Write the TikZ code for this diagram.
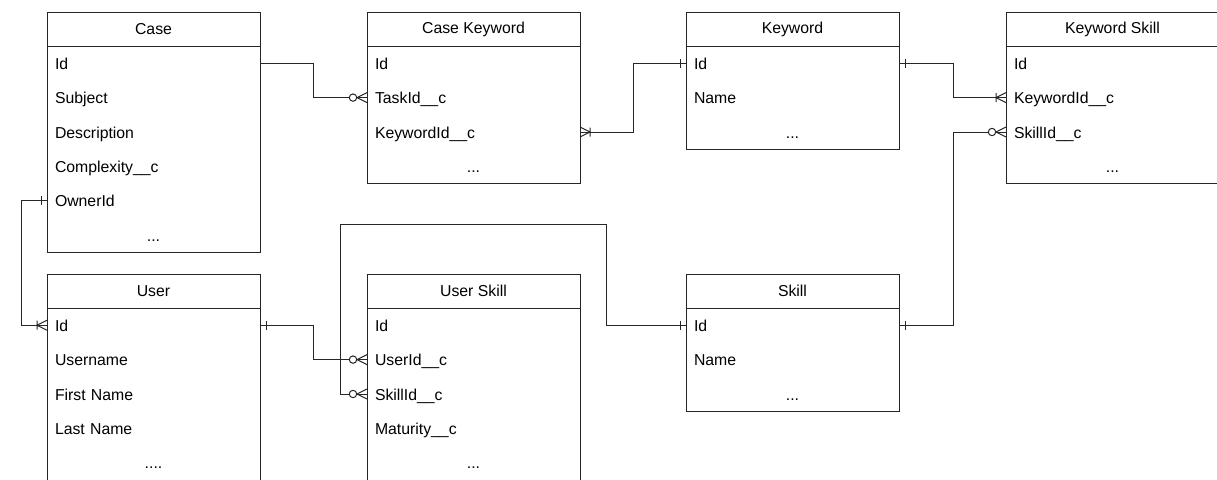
\documentclass[tikz,border=0pt]{standalone}
\usepackage{fontspec}
\setmainfont{Liberation Sans}
\usetikzlibrary{positioning, decorations.markings}

% one table: name, top left corner, title, fields
\newcommand{\erTable}[4]{%
  \node[tblhead] (#1) at (#2) {#3};
  \coordinate (#1-0) at (#1.south);
  \foreach \fld [count=\i, remember=\i as \prev (initially 0)] in {#4} {
    \node[tblrow, below=0pt of #1-\prev] (#1-\i) {\rowstrut\fld};
    \xdef\lastrow{\i}
  }
  \draw (#1.north west) rectangle (#1-\lastrow.south east);
}
\newcommand{\rowstrut}{\rule[-4pt]{0pt}{20pt}}
% the last, centred row of a table
\newcommand{\etcrow}{\makebox[197pt]{...}}
\newcommand{\etcrowlong}{\makebox[197pt]{....}}

\begin{document}
\begin{tikzpicture}[
    x=1pt, y=-1pt,
    font=\fontsize{15.8}{18}\selectfont,
    color=black!85, text=black, line width=1pt,
    tblhead/.style={draw, anchor=north west, minimum width=213pt,
        minimum height=34pt, inner sep=0pt, outer sep=0pt},
    tblrow/.style={minimum width=213pt, minimum height=34.4pt, outer sep=0pt,
        inner xsep=8pt, inner ysep=0pt, text width=197pt, align=left},
    one start/.style={postaction={decorate, decoration={markings,
        mark=at position 6pt with {\draw (0pt,-4.5pt) -- (0pt,4.5pt);}}}},
    one end/.style={postaction={decorate, decoration={markings,
        mark=at position -6pt with {\draw (0pt,-4.5pt) -- (0pt,4.5pt);}}}},
    omany start/.style={postaction={decorate, decoration={markings,
        mark=at position 10pt with {\draw (-10pt,-5pt) -- (0pt,0pt) -- (-10pt,5pt)
            (0pt,-4.5pt) -- (0pt,4.5pt);}}}},
    omany end/.style={postaction={decorate, decoration={markings,
        mark=at position -10pt with {\draw (10pt,-5pt) -- (0pt,0pt) -- (10pt,5pt)
            (0pt,-4.5pt) -- (0pt,4.5pt);}}}},
    zmany end/.style={postaction={decorate, decoration={markings,
        mark=at position -10pt with {\draw (10pt,-5pt) -- (0pt,0pt) -- (10pt,5pt);
            \draw[fill=white] (-4pt,0pt) circle (3.7pt);}}}},
]
\useasboundingbox (0,0) rectangle (1217,479);
\clip (0,0) rectangle (1217,479);

% tables
\erTable{case}{47,12}{Case}{Id, Subject, Description, Complexity\_\_c, OwnerId, \etcrow}
\erTable{ckey}{367,12}{Case Keyword}{Id, TaskId\_\_c, KeywordId\_\_c, \etcrow}
\erTable{keyword}{686,12}{Keyword}{Id, Name, \etcrow}
\erTable{kskill}{1006,12}{Keyword Skill}{Id, KeywordId\_\_c, SkillId\_\_c, \etcrow}
\erTable{user}{47,274}{User}{Id, Username, First Name, Last Name, \etcrowlong}
\erTable{uskill}{367,274}{User Skill}{Id, UserId\_\_c, SkillId\_\_c, Maturity\_\_c, \etcrow}
\erTable{skill}{686,274}{Skill}{Id, Name, \etcrow}

% relations
\draw[zmany end] (case-1.east) -- ++(53,0) |- (ckey-2.west);
\draw[omany start, one end] (ckey-3.east) -- ++(53,0) |- (keyword-1.west);
\draw[one start, omany end] (keyword-1.east) -- ++(54,0) |- (kskill-2.west);
\draw[one start, zmany end] (skill-1.east) -- ++(54,0) |- (kskill-3.west);
\draw[one start, omany end] (case-5.west) -- ++(-26,0) |- (user-1.west);
\draw[one start, zmany end] (user-1.east) -- ++(53,0) |- (uskill-2.west);
\draw[one start, zmany end] (skill-1.west) -- ++(-80,0) |- (340,224) |- (uskill-3.west);

\end{tikzpicture}
\end{document}
